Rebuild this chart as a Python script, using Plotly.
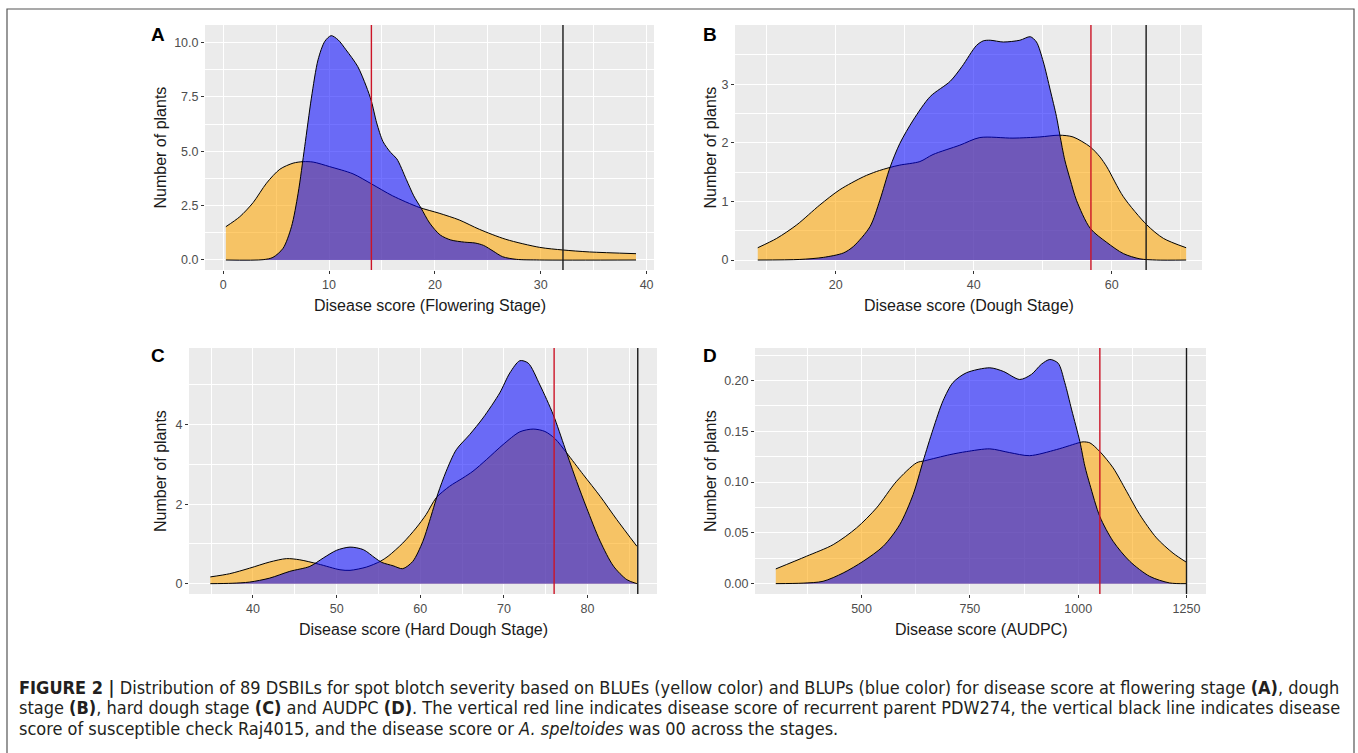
import plotly.graph_objects as go

W, H = 1358, 753

# ---------------- data ----------------
# Panel A: Flowering stage
A_blue_x = [0.25, 3.77, 4.7, 5.66, 6.45, 7.08, 7.7, 8.33, 8.96, 9.6, 10.2, 10.85, 11.6, 12.7, 13.5, 14.0,
            14.5, 15.1, 15.8, 16.4, 17.3, 18.0, 18.7, 19.5, 20.5, 21.5, 22.8, 23.8, 24.6, 25.5, 26.4, 27.7, 29.9, 39.0]
A_blue_y = [0, 0.015, 0.12, 0.54, 1.53, 3.07, 5.21, 7.44, 9.2, 10.05, 10.31, 10.12, 9.66, 8.9, 8.0, 7.3,
            6.3, 5.44, 4.95, 4.65, 3.7, 2.95, 2.38, 1.7, 1.15, 0.92, 0.82, 0.78, 0.67, 0.41, 0.15, 0.03, 0, 0]
A_yel_x = [0.25, 1.57, 2.83, 4.09, 5.35, 6.6, 7.55, 8.5, 10.06, 12.26, 14.0, 16.0, 18.5, 20.4, 22.3, 24.2,
           26.7, 29.9, 32.1, 34.6, 39.0]
A_yel_y = [1.53, 1.99, 2.64, 3.53, 4.17, 4.45, 4.52, 4.5, 4.29, 3.96, 3.5, 2.95, 2.42, 2.15, 1.84, 1.41,
           0.95, 0.58, 0.46, 0.37, 0.29]

# Panel B: Dough stage
B_blue_x = [8.7, 14.8, 18.2, 21.1, 22.55, 24.97, 26.4, 27.87, 29.3, 31.25, 33.7, 36.6, 38.3, 40.4, 41.4,
            42.4, 44.3, 46.7, 48.2, 49.1, 50.1, 51.1, 52.0, 52.5, 53.2, 54.0, 54.9, 56.9, 59.3, 61.7, 64.1, 66.5, 70.8]
B_blue_y = [0, 0.01, 0.045, 0.12, 0.23, 0.57, 1.02, 1.58, 1.99, 2.39, 2.79, 3.05, 3.3, 3.66, 3.74,
            3.75, 3.72, 3.75, 3.81, 3.72, 3.38, 2.90, 2.45, 2.13, 1.71, 1.37, 1.02, 0.54, 0.30, 0.11, 0.02, 0, 0]
B_yel_x = [8.7, 11.45, 14.35, 17.7, 20.6, 24.0, 25.9, 27.87, 29.3, 32.2, 34.1, 38.0, 40.9, 45.7, 49.6, 52.4,
           54.4, 56.9, 58.3, 59.3, 61.7, 65.1, 67.5, 70.8]
B_yel_y = [0.21, 0.37, 0.60, 0.94, 1.20, 1.42, 1.51, 1.58, 1.62, 1.68, 1.80, 1.96, 2.09, 2.08, 2.10, 2.13,
           2.10, 1.93, 1.76, 1.59, 1.08, 0.60, 0.37, 0.21]

# Panel C: Hard dough stage
C_blue_x = [34.9, 37.5, 39.6, 42.0, 44.4, 46.8, 48.4, 50.0, 51.6, 53.2, 54.6, 55.4, 56.75, 57.9, 59.1, 60.3,
            61.1, 62.1, 63.1, 64.3, 65.9, 67.5, 69.5, 70.7, 71.9, 72.9, 74.3, 75.9, 77.3, 78.7, 79.9, 81.5,
            83.1, 84.7, 85.9]
C_blue_y = [0, 0.01, 0.04, 0.14, 0.31, 0.435, 0.645, 0.84, 0.92, 0.855, 0.645, 0.535, 0.45, 0.377, 0.56, 1.06,
            1.57, 2.26, 2.83, 3.37, 3.75, 4.17, 4.80, 5.30, 5.61, 5.55, 5.0, 4.25, 3.41, 2.57, 1.90, 1.07,
            0.44, 0.10, 0.0]
C_yel_x = [34.9, 37.2, 39.6, 42.0, 44.0, 45.6, 47.8, 50.4, 51.6, 53.6, 55.2, 56.15, 57.9, 59.5, 60.7, 61.9,
           63.5, 65.1, 66.3, 67.9, 69.9, 71.9, 73.5, 74.9, 76.1, 77.5, 79.5, 81.5, 83.5, 85.9]
C_yel_y = [0.17, 0.25, 0.39, 0.545, 0.63, 0.60, 0.495, 0.35, 0.335, 0.42, 0.56, 0.69, 1.02, 1.40, 1.74, 2.16,
           2.45, 2.66, 2.83, 3.12, 3.50, 3.82, 3.89, 3.83, 3.65, 3.29, 2.74, 2.20, 1.61, 0.94]

# Panel D: AUDPC
D_blue_x = [302, 365, 411, 457.5, 503.7, 550, 588, 619, 642, 665, 688, 711, 742, 796, 827, 865, 892, 915,
            934.6, 953.8, 969, 985, 1003.8, 1015.4, 1027, 1050, 1080.6, 1119, 1165, 1211, 1250]
D_blue_y = [0, 0.0005, 0.0023, 0.0105, 0.022, 0.0368, 0.058, 0.0877, 0.1205, 0.152, 0.180, 0.198, 0.2076,
            0.2125, 0.209, 0.201, 0.206, 0.216, 0.2207, 0.217, 0.198, 0.171, 0.140, 0.1156, 0.0975, 0.066,
            0.0417, 0.022, 0.0072, 0.0007, 0]
D_yel_x = [302, 373, 434.5, 488.5, 534.6, 580.8, 627, 646, 703.8, 742, 796, 842, 888, 950, 1003.8, 1011.5,
           1027, 1050, 1080.6, 1111.5, 1142, 1180.8, 1219, 1250]
D_yel_y = [0.0145, 0.027, 0.0384, 0.0549, 0.0746, 0.1008, 0.119, 0.121, 0.127, 0.130, 0.1327, 0.129, 0.126,
           0.132, 0.139, 0.1396, 0.1386, 0.130, 0.114, 0.091, 0.068, 0.045, 0.030, 0.021]

# reference lines: recurrent parent PDW274 (red), susceptible check Raj4015 (black)
red_lines = [14.0, 57.0, 76.0, 1050]
black_lines = [32.1, 65.0, 86.0, 1250]

x_titles = ["Disease score (Flowering Stage)", "Disease score (Dough Stage)",
            "Disease score (Hard Dough Stage)", "Disease score (AUDPC)"]
panel_letters = ["A", "B", "C", "D"]

caption_lines = [
    "<b>FIGURE 2 |</b> Distribution of 89 DSBILs for spot blotch severity based on BLUEs (yellow color) and BLUPs (blue color) for disease score at flowering stage <b>(A)</b>, dough",
    "stage <b>(B)</b>, hard dough stage <b>(C)</b> and AUDPC <b>(D)</b>. The vertical red line indicates disease score of recurrent parent PDW274, the vertical black line indicates disease",
    "score of susceptible check Raj4015, and the disease score or <i>A. speltoides</i> was 00 across the stages.",
]

# ---------------- layout geometry (pixels) ----------------
panels = [
    dict(px=(205, 654), py=(25, 270), xr=[-1.72, 40.7], yr=[-0.46, 10.8],
         xt=[0, 10, 20, 30, 40], xm=[5, 15, 25, 35], yt=[0, 2.5, 5, 7.5, 10], ym=[1.25, 3.75, 6.25, 8.75],
         yfmt=".1f"),
    dict(px=(735, 1202), py=(25, 270), xr=[5.4, 73.1], yr=[-0.17, 4.01],
         xt=[20, 40, 60], xm=[10, 30, 50, 70], yt=[0, 1, 2, 3], ym=[0.5, 1.5, 2.5, 3.5], yfmt="d"),
    dict(px=(189, 657), py=(348, 594), xr=[32.35, 88.3], yr=[-0.26, 5.93],
         xt=[40, 50, 60, 70, 80], xm=[35, 45, 55, 65, 75, 85], yt=[0, 2, 4], ym=[1, 3, 5], yfmt="d"),
    dict(px=(755, 1206), py=(348, 594), xr=[254, 1295], yr=[-0.0102, 0.232],
         xt=[500, 750, 1000, 1250], xm=[375, 625, 875, 1125], yt=[0, 0.05, 0.1, 0.15, 0.2],
         ym=[0.025, 0.075, 0.125, 0.175, 0.225], yfmt=".2f"),
]
data = [(A_yel_x, A_yel_y, A_blue_x, A_blue_y), (B_yel_x, B_yel_y, B_blue_x, B_blue_y),
        (C_yel_x, C_yel_y, C_blue_x, C_blue_y), (D_yel_x, D_yel_y, D_blue_x, D_blue_y)]

YEL = "rgba(255,165,0,0.57)"
BLU = "rgba(0,0,255,0.55)"
TICKFONT = dict(family="Liberation Sans, Arial, sans-serif", size=12.5, color="#4D4D4D")
TITLEFONT = dict(family="Liberation Sans, Arial, sans-serif", size=16, color="#1A1A1A")

fig = go.Figure()
layout = dict(width=W, height=H, margin=dict(l=0, r=0, t=0, b=0), paper_bgcolor="white",
              plot_bgcolor="#EBEBEB", showlegend=False)
shapes, annotations = [], []

for i, (p, (yx, yy, bx, by)) in enumerate(zip(panels, data)):
    n = "" if i == 0 else str(i + 1)
    xa, ya = "x" + n, "y" + n
    fig.add_trace(go.Scatter(x=yx, y=yy, xaxis=xa, yaxis=ya, mode="lines", fill="tozeroy",
                             fillcolor=YEL, line=dict(color="black", width=1, shape="spline", smoothing=0.8),
                             hoverinfo="skip"))
    fig.add_trace(go.Scatter(x=bx, y=by, xaxis=xa, yaxis=ya, mode="lines", fill="tozeroy",
                             fillcolor=BLU, line=dict(color="black", width=1, shape="spline", smoothing=0.8),
                             hoverinfo="skip"))
    xd = [p["px"][0] / W, p["px"][1] / W]
    yd = [1 - p["py"][1] / H, 1 - p["py"][0] / H]
    common = dict(showline=False, zeroline=False, showgrid=True, gridcolor="white", gridwidth=1.1,
                  ticks="outside", ticklen=3, tickwidth=1, tickcolor="#333333", tickfont=TICKFONT)
    layout["xaxis" + n] = dict(domain=xd, range=p["xr"], anchor=ya, tickvals=p["xt"],
                               minor=dict(tickvals=p["xm"], showgrid=True, gridcolor="white", gridwidth=0.6,
                                          ticks=""), **common)
    layout["yaxis" + n] = dict(domain=yd, range=p["yr"], anchor=xa, tickvals=p["yt"], tickformat=p["yfmt"],
                               minor=dict(tickvals=p["ym"], showgrid=True, gridcolor="white", gridwidth=0.6,
                                          ticks=""), **common)
    # vertical reference lines
    shapes.append(dict(type="line", xref=xa, yref=ya + " domain", x0=red_lines[i], x1=red_lines[i], y0=0, y1=1,
                       line=dict(color="#CC1426", width=1.4)))
    shapes.append(dict(type="line", xref=xa, yref=ya + " domain", x0=black_lines[i], x1=black_lines[i], y0=0, y1=1,
                       line=dict(color="#1A1A1A", width=1.4)))
    # axis titles
    cx = (p["px"][0] + p["px"][1]) / 2
    annotations.append(dict(text=x_titles[i], xref="paper", yref="paper", x=cx / W, y=1 - (p["py"][1] + 35) / H,
                            showarrow=False, xanchor="center", yanchor="middle", font=TITLEFONT))
    lx = 160 if i % 2 == 0 else 710
    cy = (p["py"][0] + p["py"][1]) / 2
    annotations.append(dict(text="Number of plants", xref="paper", yref="paper", x=lx / W, y=1 - cy / H,
                            showarrow=False, textangle=-90, xanchor="center", yanchor="middle", font=TITLEFONT))
    # panel letter
    annotations.append(dict(text="<b>%s</b>" % panel_letters[i], xref="paper", yref="paper",
                            x=(158 if i % 2 == 0 else 710) / W, y=1 - (35 if i < 2 else 355) / H,
                            showarrow=False, xanchor="center", yanchor="middle",
                            font=dict(family="Liberation Sans, Arial, sans-serif", size=19, color="black")))

# caption
for j, (line, yc) in enumerate(zip(caption_lines, [687, 707.5, 728])):
    annotations.append(dict(text=line, xref="paper", yref="paper", x=17 / W, y=1 - yc / H, showarrow=False,
                            xanchor="left", yanchor="middle",
                            font=dict(family="DejaVu Sans Condensed, sans-serif",
                                      size=18, color="#231F20")))

# outer frame
shapes.append(dict(type="rect", xref="paper", yref="paper", x0=7 / W, x1=1354 / W, y0=-0.02, y1=1 - 9 / H,
                   line=dict(color="#555555", width=1.2), fillcolor="rgba(0,0,0,0)", layer="below"))

layout["shapes"] = shapes
layout["annotations"] = annotations
fig.update_layout(**layout)
fig.write_html("out.html", config={"displayModeBar": False},
               post_script="document.body.style.margin='0px';")
